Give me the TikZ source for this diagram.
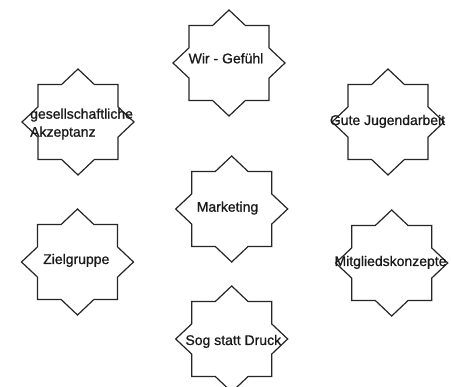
\documentclass[tikz,border=0pt]{standalone}
\usepackage{fontspec}
\setmainfont[FakeBold=0.8]{Liberation Sans}
\begin{document}
\begin{tikzpicture}[x=1pt,y=-1pt,
  starline/.style={draw=black!85,line width=1.2pt,line join=miter},
  lbl/.style={font=\fontsize{14}{18}\selectfont,inner sep=0pt,text=black!90},
  starshape/.pic={
    \draw[starline] (0,-53) -- (16.4,-37.5) -- (40,-37.5) -- (40,-15.1) -- (56,0)
      -- (40,15.1) -- (40,37.5) -- (16.4,37.5) -- (0,53) -- (-16.4,37.5)
      -- (-40,37.5) -- (-40,15.1) -- (-56,0) -- (-40,-15.1) -- (-40,-37.5)
      -- (-16.4,-37.5) -- cycle;
  }]
\useasboundingbox (0,0) rectangle (451,387);
\clip (0,0) rectangle (451,387);
\fill[white] (0,0) rectangle (451,387);
\pic (s1) at (229,63) {starshape};
\pic (s2) at (78,122) {starshape};
\pic (s3) at (388,122) {starshape};
\pic (s4) at (231.7,209) {starshape};
\pic (s5) at (77.5,262) {starshape};
\pic (s6) at (391.7,263) {starshape};
\pic (s7) at (231.7,339) {starshape};
\node[lbl,anchor=base] (t1) at (226,63.3) {Wir - Gefühl};
\node[lbl,anchor=base west,align=left] (t2) at (30,136.7) {gesellschaftliche\\Akzeptanz};
\node[lbl,anchor=base] (t3) at (387.5,125) {Gute Jugendarbeit};
\node[lbl,anchor=base] (t4) at (227.5,211.7) {Marketing};
\node[lbl,anchor=base] (t5) at (76.3,264) {Zielgruppe};
\node[lbl,anchor=base] (t6) at (390.5,266) {Mitgliedskonzepte};
\node[lbl,anchor=base] (t7) at (233.3,345) {Sog statt Druck};
\end{tikzpicture}
\end{document}
